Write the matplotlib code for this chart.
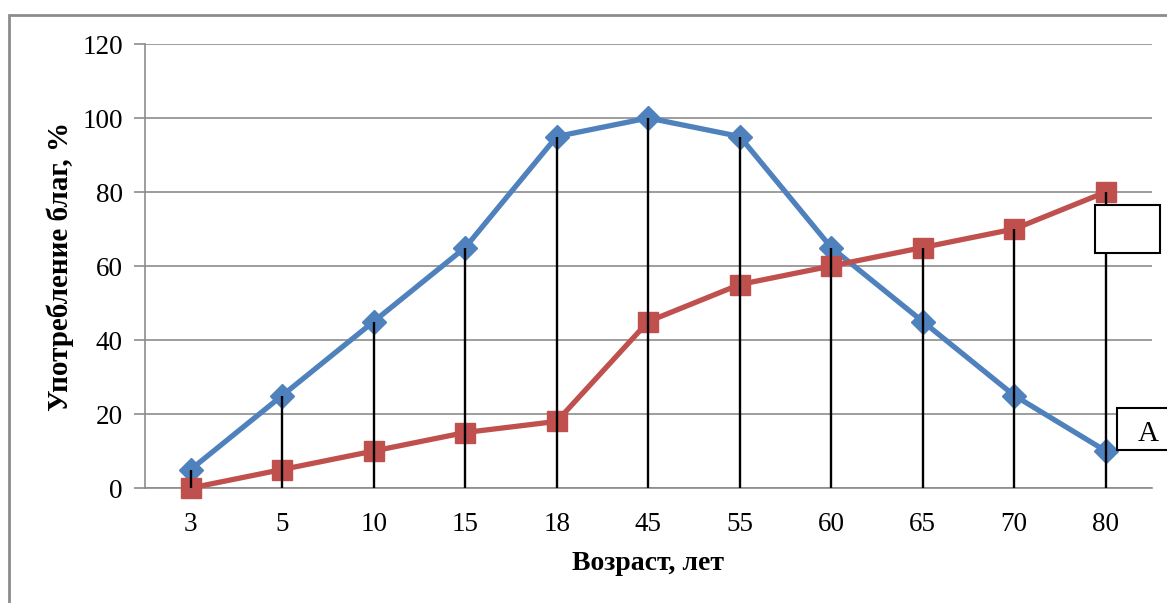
import matplotlib
matplotlib.use("Agg")
import matplotlib.pyplot as plt
from matplotlib.patches import Rectangle

categories = ["3", "5", "10", "15", "18", "45", "55", "60", "65", "70", "80"]
blue_values = [5, 25, 45, 65, 95, 100, 95, 65, 45, 25, 10]
red_values = [0, 5, 10, 15, 18, 45, 55, 60, 65, 70, 80]
y_ticks = [0, 20, 40, 60, 80, 100, 120]

plt.rcParams['font.family'] = ['Liberation Serif', 'DejaVu Serif']

W, H = 1167, 603
fig = plt.figure(figsize=(W / 100, H / 100), dpi=100)
ax = fig.add_axes([145 / W, 1 - 488 / H, (1151.5 - 145) / W, (488 - 44) / H])

x = list(range(len(categories)))
ax.plot(x, blue_values, color='#4F81BD', lw=3.8, marker='D', ms=12,
        markerfacecolor='#4F81BD', markeredgecolor='#4F81BD', zorder=3, clip_on=False)
ax.plot(x, red_values, color='#C0504D', lw=3.8, marker='s', ms=14,
        markerfacecolor='#C0504D', markeredgecolor='#C0504D', zorder=3, clip_on=False)
tops = [max(b, r) for b, r in zip(blue_values, red_values)]
ax.vlines(x, 0, tops, color='black', lw=1.7, zorder=4)

ax.set_xlim(-0.5, len(categories) - 0.5)
ax.set_ylim(0, 120)
ax.set_yticks(y_ticks)
ax.set_xticks(x)
ax.set_xticklabels(categories)
ax.yaxis.grid(True, color='#8c8c8c', lw=1.2)
ax.set_axisbelow(True)
for s in ['top', 'right']:
    ax.spines[s].set_visible(False)
for s in ['left', 'bottom']:
    ax.spines[s].set_color('#8c8c8c')
    ax.spines[s].set_linewidth(1.2)
ax.tick_params(axis='y', length=8, width=1.2, color='#8c8c8c', labelsize=19.5, pad=8)
ax.tick_params(axis='x', length=0, labelsize=19.5, pad=17)
ax.set_xlabel('Возраст, лет', fontsize=20, fontweight='bold', labelpad=10)
ax.set_ylabel('Употребление благ, %', fontsize=21, fontweight='bold', labelpad=6)

# outer frame
fig.patches.append(Rectangle((9 / W, -0.1), 1.2, 1 - 15 / H + 0.1, transform=fig.transFigure,
                             fill=False, edgecolor='#8c8c8c', lw=2.0))
# annotation boxes
fig.patches.append(Rectangle((1095 / W, 1 - 253 / H), 65 / W, 48 / H, transform=fig.transFigure,
                             facecolor='white', edgecolor='black', lw=1.5, zorder=5))
fig.patches.append(Rectangle((1117 / W, 1 - 450 / H), 60 / W, 42 / H, transform=fig.transFigure,
                             facecolor='white', edgecolor='black', lw=1.5, zorder=5))
fig.text(1148 / W, 1 - 434 / H, 'A', ha='center', va='center', fontsize=21, zorder=6)

fig.savefig('out.png', dpi=100)
